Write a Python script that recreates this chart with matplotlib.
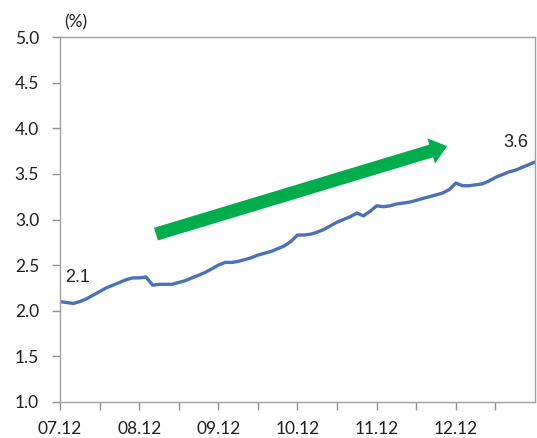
import numpy as np
import pandas as pd
import matplotlib
matplotlib.use("Agg")
import matplotlib.pyplot as plt
import matplotlib.dates as mdates
from matplotlib.patches import FancyArrowPatch

# Monthly series, Dec 2007 - Dec 2013 (%)
start_month = "2007-12-01"
rate = [2.10, 2.09, 2.08, 2.10, 2.13, 2.17, 2.21, 2.25, 2.28, 2.31,
        2.34, 2.36, 2.36, 2.37, 2.28, 2.29, 2.29, 2.29, 2.31, 2.33,
        2.36, 2.39, 2.42, 2.46, 2.50, 2.53, 2.53, 2.54, 2.56, 2.58,
        2.61, 2.63, 2.65, 2.68, 2.71, 2.76, 2.83, 2.83, 2.84, 2.86,
        2.89, 2.93, 2.97, 3.00, 3.03, 3.07, 3.04, 3.09, 3.15, 3.14,
        3.15, 3.17, 3.18, 3.19, 3.21, 3.23, 3.25, 3.27, 3.29, 3.33,
        3.40, 3.37, 3.37, 3.38, 3.39, 3.42, 3.46, 3.49, 3.52, 3.54,
        3.57, 3.60, 3.63]
first_label = "2.1"
last_label = "3.6"
x_labels = ["07.12", "08.12", "09.12", "10.12", "11.12", "12.12"]
y_ticks = [1.0, 1.5, 2.0, 2.5, 3.0, 3.5, 4.0, 4.5, 5.0]

dates = pd.date_range(start_month, periods=len(rate), freq="MS")

plt.rcParams["font.family"] = ["Lato", "DejaVu Sans"]

fig = plt.figure(figsize=(5.37, 4.38), dpi=100)
ax = fig.add_axes([0.1117, 0.0822, 0.8846, 0.8333])

ax.plot(dates, rate, color="#4A72B8", lw=2.4, solid_capstyle="round")

ax.set_xlim(dates[0], dates[-1])
ax.set_ylim(1.0, 5.0)
ax.set_yticks(y_ticks)
ax.set_yticklabels([f"{v:.1f}" for v in y_ticks])

# yearly labels, half-year tick marks
year_ticks = pd.date_range(start_month, periods=len(x_labels), freq="12MS")
ax.set_xticks(year_ticks)
ax.set_xticklabels(x_labels)
ax.xaxis.set_minor_locator(mdates.MonthLocator(bymonth=[6]))

ax.tick_params(axis="both", which="both", direction="out", color="#909090",
               length=6, width=1, labelsize=12.5, labelcolor="#1E1E1E")
ax.tick_params(axis="x", which="both", pad=8)
ax.tick_params(axis="y", pad=9)

for s in ax.spines.values():
    s.set_color("#A0A0A0")
    s.set_linewidth(1.0)

# end-point labels
ax.annotate(first_label, (dates[0], rate[0]), xytext=(4, 14),
            textcoords="offset points", fontsize=13,
            family=["Liberation Sans", "DejaVu Sans"], color="#222222")
ax.annotate(last_label, (dates[-1], rate[-1]), xytext=(-23, 11),
            textcoords="offset points", fontsize=13,
            family=["Liberation Sans", "DejaVu Sans"], color="#222222")

# trend arrow
arrow = FancyArrowPatch((0.202, 0.460), (0.815, 0.701),
                        transform=ax.transAxes,
                        arrowstyle="simple,head_length=12,head_width=19,tail_width=9.5",
                        color="#00AD4C", shrinkA=0, shrinkB=0, lw=0)
ax.add_patch(arrow)

fig.text(0.119, 0.938, "(%)", fontsize=12.5, color="#222222")

fig.savefig("out.png", dpi=100)
